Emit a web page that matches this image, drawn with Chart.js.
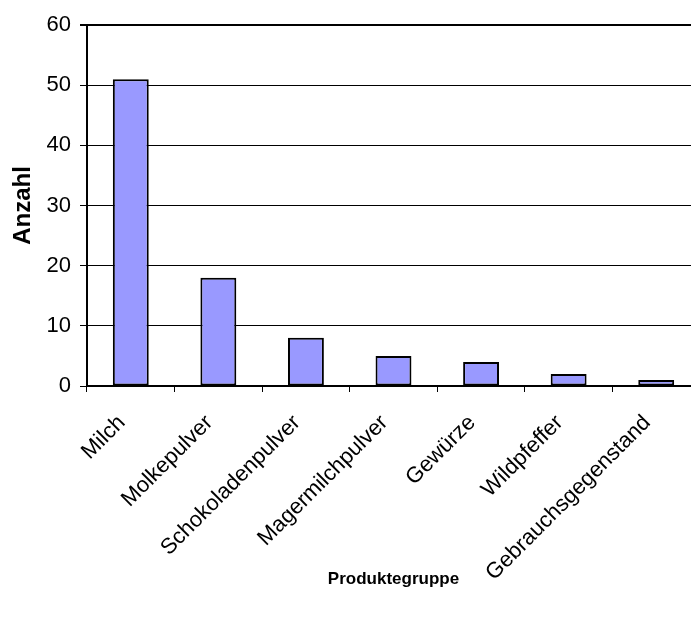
<!DOCTYPE html>
<html>
<head>
<meta charset="utf-8">
<script src="https://cdn.jsdelivr.net/npm/chart.js"></script>
<style>
body{margin:0;overflow:hidden;background:#fff;}
</style>
</head>
<body>
<canvas id="barChart" width="700" height="625"></canvas>
<script>
const categories=['Milch','Molkepulver','Schokoladenpulver','Magermilchpulver','Gewürze','Wildpfeffer','Gebrauchsgegenstand'];
const anzahl=[51,18,8,5,4,2,1];
const yTicks=[0,10,20,30,40,50,60];

const fontName="'Liberation Sans', Arial, sans-serif";

const ctx=document.getElementById('barChart').getContext('2d');
const barchart=new Chart(ctx,{
    type:'bar',
    data:{
        labels:categories,
        datasets:[{
            label:'Anzahl',
            data:anzahl,
            backgroundColor:'#9999ff',
            borderColor:'#000',
            borderWidth:2,
            borderSkipped:false,
            barPercentage:0.41,
            categoryPercentage:1
        }]
    },
    options:{
        responsive:false,
        animation:false,
        layout:{padding:{left:0,top:25,right:0,bottom:0}},
        plugins:{legend:{display:false},tooltip:{enabled:false}},
        scales:{
            x:{
                grid:{drawOnChartArea:false,drawTicks:true,tickLength:6,color:'#000'},
                border:{color:'#000',width:2},
                ticks:{color:'#000',font:{family:fontName,size:22},minRotation:45,maxRotation:45,padding:18,labelOffset:-9},
                title:{display:true,text:'Produktegruppe',color:'#000',font:{family:fontName,size:17,weight:'bold'},padding:{top:4,bottom:35}},
                afterFit:function(scale){scale.height=239;}
            },
            y:{
                min:yTicks[0],
                max:yTicks[yTicks.length-1],
                afterBuildTicks:function(scale){scale.ticks=yTicks.map(v=>({value:v}));},
                grid:{color:'#000',lineWidth:c=>c.tick&&c.tick.value===60?2:1,tickLength:7,tickColor:'#000'},
                border:{color:'#000',width:2},
                ticks:{color:'#000',font:{family:fontName,size:22},padding:9},
                title:{display:true,text:'Anzahl',color:'#000',font:{family:fontName,size:24,weight:'bold'},padding:{top:9,bottom:0}},
                afterFit:function(scale){scale.width=87;}
            }
        }
    }
});
</script>
</body>
</html>
